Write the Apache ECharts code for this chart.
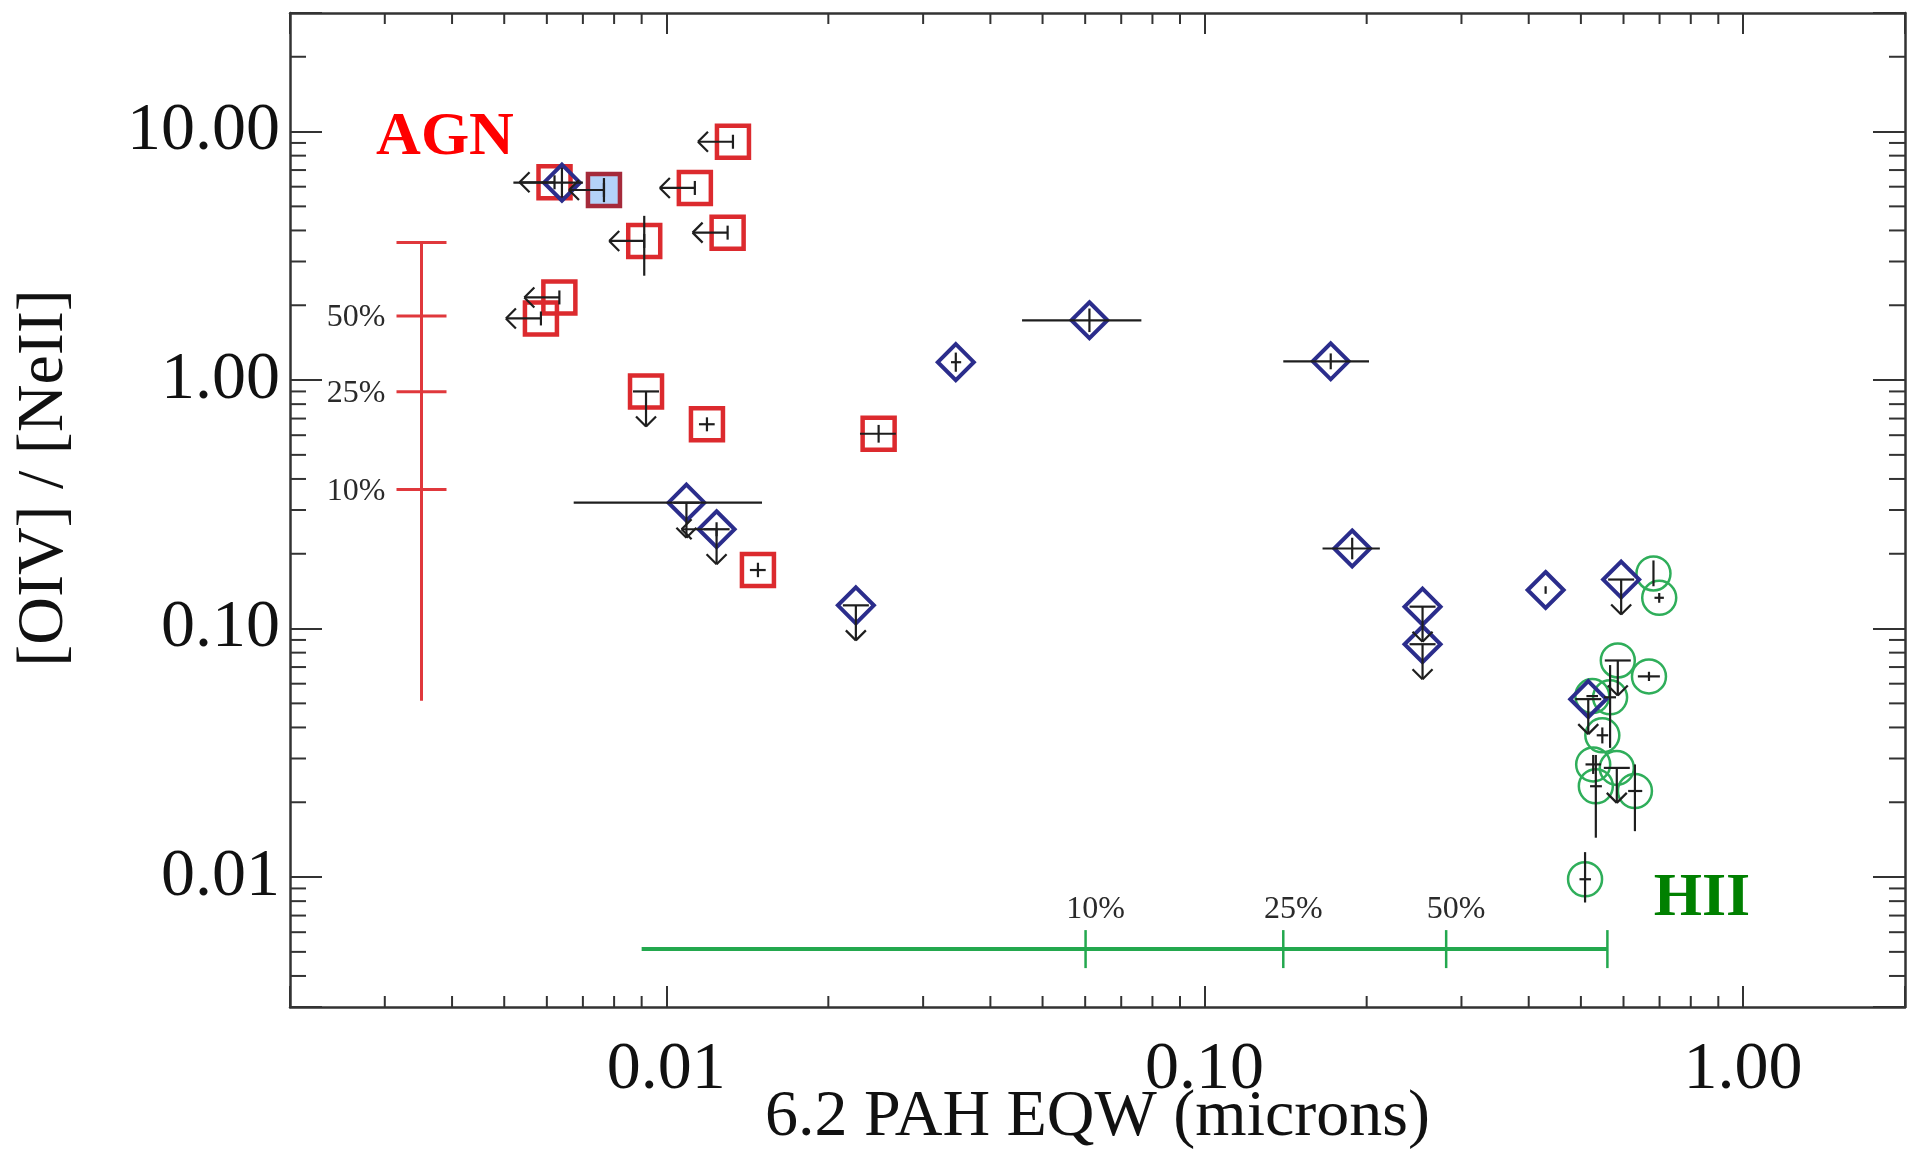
<!DOCTYPE html>
<html>
<head>
<meta charset="utf-8">
<script src="https://cdn.jsdelivr.net/npm/echarts@6/dist/echarts.min.js"></script>
<style>
html,body{margin:0;padding:0;background:#fff;}
#chart{width:1910px;height:1156px;}
</style>
</head>
<body>
<div id="chart"></div>
<script>
// ---------------- DATA ----------------
// Red open squares
const agnEqw      = [0.0133, 0.0062, 0.0113, 0.0091, 0.0130, 0.00633, 0.00585, 0.00917, 0.0119, 0.0148, 0.0248];
const agnRatio    = [9.1, 6.25, 5.93, 3.63, 3.92, 2.15, 1.77, 0.90, 0.664, 0.172, 0.608];
const agnEqwErr   = [null, null, null, null, null, null, null, null, [0.0115, 0.0123], [0.0143, 0.0153], [0.0229, 0.0267]];
const agnRatioErr = [null, null, null, [2.63, 4.58], null, null, null, null, [0.622, 0.708], [0.161, 0.184], [0.56, 0.66]];
const agnLimit    = ['L', 'L', 'L', 'L', 'L', 'L', 'L', 'D', '', '', ''];

// Filled (light blue) square
const filledEqw      = [0.00766];
const filledRatio    = [5.82];
const filledEqwErr   = [null];
const filledRatioErr = [[5.2, 6.5]];
const filledLimit    = ['L'];

// Blue open diamonds
const diamondEqw      = [0.0064, 0.0109, 0.0124, 0.0225, 0.0345, 0.0611, 0.1715, 0.188, 0.254, 0.254, 0.430, 0.594, 0.516];
const diamondRatio    = [6.23, 0.321, 0.251, 0.124, 1.18, 1.74, 1.19, 0.210, 0.1225, 0.0865, 0.143, 0.1575, 0.052];
const diamondEqwErr   = [[0.0052, 0.0070], [0.00673, 0.01506], null, null, [0.0338, 0.0353], [0.0458, 0.0763], [0.140, 0.202], [0.1656, 0.2116], null, null, null, null, null];
const diamondRatioErr = [[5.42, 7.15], null, null, null, [1.08, 1.29], [1.56, 1.94], [1.105, 1.28], [0.19, 0.232], null, null, [0.138, 0.148], null, null];
const diamondLimit    = ['', 'D', 'LD', 'D', '', '', '', '', 'D', 'D', '', 'D', 'D'];

// Green open circles
const hiiEqw      = [0.682, 0.699, 0.5855, 0.669, 0.525, 0.5665, 0.548, 0.527, 0.583, 0.533, 0.630, 0.509];
const hiiRatio    = [0.1666, 0.133, 0.0744, 0.0642, 0.0535, 0.0529, 0.0372, 0.0284, 0.0275, 0.0232, 0.0222, 0.0098];
const hiiEqwErr   = [null, [0.685, 0.713], null, [0.638, 0.701], [0.512, 0.538], [0.552, 0.581], [0.535, 0.562], [0.51, 0.545], null, [0.52, 0.547], [0.612, 0.65], [0.497, 0.522]];
const hiiRatioErr = [[0.148, 0.188], [0.127, 0.139], null, [0.0615, 0.067], null, [0.0331, 0.0713], [0.0345, 0.040], [0.026, 0.031], null, [0.0144, 0.031], [0.0153, 0.0284], [0.0079, 0.0126]];
const hiiLimit    = ['', '', 'D', '', '', '', '', '', 'D', '', '', ''];

// AGN-fraction scale (vertical red bar)
const agnScaleEqw     = 0.00351;
const agnScaleRange   = [0.0512, 3.58];
const agnScaleTicks   = [3.58, 1.81, 0.897, 0.363];
const agnScaleLabels  = ['', '50%', '25%', '10%'];

// HII-fraction scale (horizontal green bar)
const hiiScaleRatio   = 0.00513;
const hiiScaleRange   = [0.0090, 0.560];
const hiiScaleTicks   = [0.0601, 0.140, 0.281, 0.560];
const hiiScaleLabels  = ['10%', '25%', '50%', ''];

// Axes
const xMin = 0.002, xMax = 2;
const yMin = 0.003, yMax = 30;
const xMinorTicks = [0.003, 0.004, 0.005, 0.006, 0.007, 0.008, 0.009,
                     0.02, 0.03, 0.04, 0.05, 0.06, 0.07, 0.08, 0.09,
                     0.2, 0.3, 0.4, 0.5, 0.6, 0.7, 0.8, 0.9];
const yMinorTicks = [0.004, 0.005, 0.006, 0.007, 0.008, 0.009,
                     0.02, 0.03, 0.04, 0.05, 0.06, 0.07, 0.08, 0.09,
                     0.2, 0.3, 0.4, 0.5, 0.6, 0.7, 0.8, 0.9,
                     2, 3, 4, 5, 6, 7, 8, 9, 20];
const xTitle = '6.2 PAH EQW (microns)';
const yTitle = '[OIV] / [NeII]';

// ---------------- STYLE ----------------
const SERIF = '"Liberation Serif", "Times New Roman", serif';
const AXIS_COLOR = '#333';
const ERR_COLOR = '#1e1e1e';
const ARROW = 35, HEAD = 10;

function pairs(xs, ys) { return xs.map((x, i) => [x, ys[i]]); }

function errorSeries(xs, ys, xErr, yErr, lim) {
  return {
    type: 'custom',
    coordinateSystem: 'cartesian2d',
    xAxisIndex: 0, yAxisIndex: 0,
    z: 10,
    silent: true,
    clip: false,
    data: pairs(xs, ys),
    renderItem: function (params, api) {
      const i = params.dataIndex;
      const p = api.coord([xs[i], ys[i]]);
      const st = { stroke: ERR_COLOR, lineWidth: 2.2, fill: null };
      const ch = [];
      const L = (x1, y1, x2, y2) => ch.push({ type: 'line', shape: { x1, y1, x2, y2 }, style: st });
      if (xErr[i]) {
        const a = api.coord([xErr[i][0], ys[i]]), b = api.coord([xErr[i][1], ys[i]]);
        L(a[0], a[1], b[0], b[1]);
      }
      if (yErr[i]) {
        const a = api.coord([xs[i], yErr[i][0]]), b = api.coord([xs[i], yErr[i][1]]);
        L(a[0], a[1], b[0], b[1]);
      }
      const code = lim[i] || '';
      if (code.indexOf('L') >= 0) {
        const tx = p[0] - ARROW;
        L(p[0], p[1], tx, p[1]);
        L(tx, p[1], tx + HEAD, p[1] - HEAD);
        L(tx, p[1], tx + HEAD, p[1] + HEAD);
        L(p[0], p[1] - 7, p[0], p[1] + 7);
      }
      if (code.indexOf('D') >= 0) {
        const ty = p[1] + ARROW;
        L(p[0] - 13, p[1], p[0] + 13, p[1]);
        L(p[0], p[1], p[0], ty);
        L(p[0], ty, p[0] - HEAD, ty - HEAD);
        L(p[0], ty, p[0] + HEAD, ty - HEAD);
      }
      return { type: 'group', children: ch };
    }
  };
}

function markerSeries(xs, ys, symbol, size, fill, stroke, bw, z) {
  return {
    type: 'scatter',
    xAxisIndex: 0, yAxisIndex: 0,
    symbol: symbol,
    symbolSize: size,
    z: z,
    silent: true,
    data: pairs(xs, ys),
    itemStyle: { color: fill, borderColor: stroke, borderWidth: bw, opacity: 1 },
    emphasis: { disabled: true }
  };
}

const labelFmt = function (v) {
  const e = Math.log10(v);
  if (Math.abs(e - Math.round(e)) < 1e-6) return v.toFixed(2);
  return '';
};

function xAxisDef(pos, showLabels) {
  return {
    type: 'log', logBase: 10, min: xMin, max: xMax, position: pos,
    axisLine: { show: true, onZero: false, lineStyle: { color: AXIS_COLOR, width: 2.5 } },
    axisTick: { show: true, inside: true, length: 21, lineStyle: { color: AXIS_COLOR, width: 2 } },
    axisLabel: { show: showLabels, formatter: labelFmt, fontFamily: SERIF, fontSize: 68, color: '#111', margin: 29 },
    splitLine: { show: false },
    name: showLabels ? xTitle : '',
    nameLocation: 'middle',
    nameGap: 78,
    nameMoveOverlap: false,
    nameTextStyle: { fontFamily: SERIF, fontSize: 66, color: '#111' }
  };
}
function yAxisDef(pos, showLabels) {
  return {
    type: 'log', logBase: 10, min: yMin, max: yMax, position: pos,
    axisLine: { show: true, onZero: false, lineStyle: { color: AXIS_COLOR, width: 2.5 } },
    axisTick: { show: true, inside: true, length: 32, lineStyle: { color: AXIS_COLOR, width: 2 } },
    axisLabel: { show: showLabels, formatter: labelFmt, fontFamily: SERIF, fontSize: 68, color: '#111', margin: 10 },
    splitLine: { show: false }
  };
}

// Minor ticks drawn through the axes' own scales
const minorTickSeries = {
  type: 'custom', coordinateSystem: 'cartesian2d', xAxisIndex: 0, yAxisIndex: 0,
  silent: true, clip: false, z: 5,
  data: [[xMin, yMin]],
  renderItem: function (params, api) {
    const st = { stroke: AXIS_COLOR, lineWidth: 2 };
    const ch = [];
    xMinorTicks.forEach(v => {
      const b = api.coord([v, yMin]), t = api.coord([v, yMax]);
      ch.push({ type: 'line', shape: { x1: b[0], y1: b[1], x2: b[0], y2: b[1] - 11 }, style: st });
      ch.push({ type: 'line', shape: { x1: t[0], y1: t[1], x2: t[0], y2: t[1] + 11 }, style: st });
    });
    yMinorTicks.forEach(v => {
      const l = api.coord([xMin, v]), r = api.coord([xMax, v]);
      ch.push({ type: 'line', shape: { x1: l[0], y1: l[1], x2: l[0] + 16, y2: l[1] }, style: st });
      ch.push({ type: 'line', shape: { x1: r[0], y1: r[1], x2: r[0] - 16, y2: r[1] }, style: st });
    });
    return { type: 'group', children: ch };
  }
};

// Fraction scales
const agnScaleSeries = {
  type: 'custom', coordinateSystem: 'cartesian2d', xAxisIndex: 0, yAxisIndex: 0,
  silent: true, clip: false, z: 6,
  data: [[agnScaleEqw, agnScaleRange[1]]],
  renderItem: function (params, api) {
    const col = '#e0383c';
    const ch = [];
    const a = api.coord([agnScaleEqw, agnScaleRange[0]]), b = api.coord([agnScaleEqw, agnScaleRange[1]]);
    ch.push({ type: 'line', shape: { x1: a[0], y1: a[1], x2: b[0], y2: b[1] }, style: { stroke: col, lineWidth: 3 } });
    agnScaleTicks.forEach((v, k) => {
      const p = api.coord([agnScaleEqw, v]);
      ch.push({ type: 'line', shape: { x1: p[0] - 25, y1: p[1], x2: p[0] + 25, y2: p[1] }, style: { stroke: col, lineWidth: 3 } });
      if (agnScaleLabels[k]) {
        ch.push({ type: 'text', x: p[0] - 36, y: p[1] + 2,
          style: { text: agnScaleLabels[k], fill: '#2a2a2a', font: '32px ' + SERIF, align: 'right', verticalAlign: 'middle' } });
      }
    });
    return { type: 'group', children: ch };
  }
};
const hiiScaleSeries = {
  type: 'custom', coordinateSystem: 'cartesian2d', xAxisIndex: 0, yAxisIndex: 0,
  silent: true, clip: false, z: 6,
  data: [[hiiScaleRange[0], hiiScaleRatio]],
  renderItem: function (params, api) {
    const col = '#23a84e';
    const ch = [];
    const a = api.coord([hiiScaleRange[0], hiiScaleRatio]), b = api.coord([hiiScaleRange[1], hiiScaleRatio]);
    ch.push({ type: 'line', shape: { x1: a[0], y1: a[1], x2: b[0], y2: b[1] }, style: { stroke: col, lineWidth: 4 } });
    hiiScaleTicks.forEach((v, k) => {
      const p = api.coord([v, hiiScaleRatio]);
      ch.push({ type: 'line', shape: { x1: p[0], y1: p[1] - 19, x2: p[0], y2: p[1] + 19 }, style: { stroke: col, lineWidth: 2.5 } });
      if (hiiScaleLabels[k]) {
        ch.push({ type: 'text', x: p[0] + 10, y: p[1] - 40,
          style: { text: hiiScaleLabels[k], fill: '#2a2a2a', font: '32px ' + SERIF, align: 'center', verticalAlign: 'middle' } });
      }
    });
    return { type: 'group', children: ch };
  }
};

const chart = echarts.init(document.getElementById('chart'), null, { renderer: 'canvas' });
chart.setOption({
  animation: false,
  backgroundColor: '#fff',
  grid: { left: 290, right: 5, top: 13, bottom: 149, containLabel: false, outerBoundsMode: 'none' },
  xAxis: [xAxisDef('bottom', true), xAxisDef('top', false)],
  yAxis: [yAxisDef('left', true), yAxisDef('right', false)],
  graphic: [
    { type: 'text', x: 45, y: 478, rotation: Math.PI / 2, z: 20,
      style: { text: yTitle, font: '66px ' + SERIF, fill: '#111', align: 'center', verticalAlign: 'middle' } },
    { type: 'text', x: 445, y: 138, z: 20,
      style: { text: 'AGN', font: 'bold 62px ' + SERIF, fill: '#ff0000', align: 'center', verticalAlign: 'middle' } },
    { type: 'text', x: 1702, y: 899, z: 20,
      style: { text: 'HII', font: 'bold 62px ' + SERIF, fill: '#008000', align: 'center', verticalAlign: 'middle' } }
  ],
  series: [
    minorTickSeries,
    agnScaleSeries,
    hiiScaleSeries,
    markerSeries(hiiEqw, hiiRatio, 'circle', 34, 'rgba(0,0,0,0)', '#2fae5a', 2.5, 7),
    markerSeries(agnEqw, agnRatio, 'rect', 32, 'rgba(0,0,0,0)', '#dc2a2e', 4.5, 7),
    markerSeries(filledEqw, filledRatio, 'rect', 32, '#b4d2f8', '#a52a3a', 4.5, 8),
    markerSeries(diamondEqw, diamondRatio, 'diamond', 36, 'rgba(0,0,0,0)', '#2b2d8c', 4, 9),
    errorSeries(agnEqw, agnRatio, agnEqwErr, agnRatioErr, agnLimit),
    errorSeries(filledEqw, filledRatio, filledEqwErr, filledRatioErr, filledLimit),
    errorSeries(diamondEqw, diamondRatio, diamondEqwErr, diamondRatioErr, diamondLimit),
    errorSeries(hiiEqw, hiiRatio, hiiEqwErr, hiiRatioErr, hiiLimit)
  ]
});
</script>
</body>
</html>
